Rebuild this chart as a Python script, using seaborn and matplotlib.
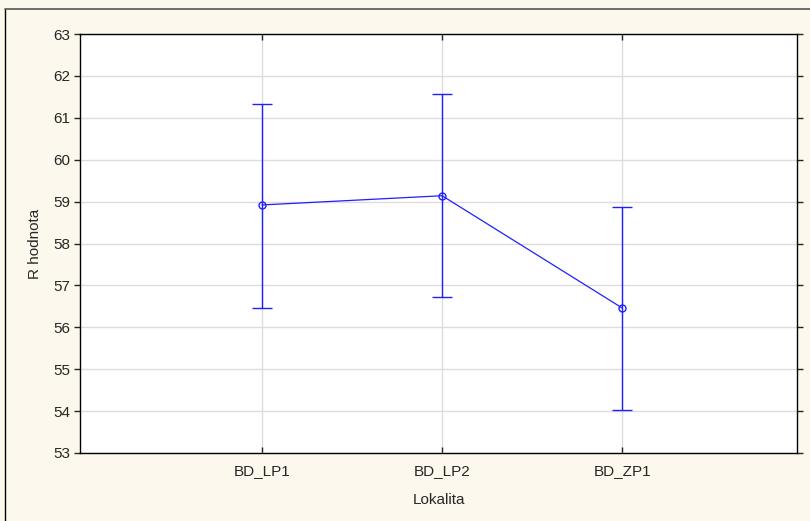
import matplotlib
matplotlib.use('Agg')
import matplotlib.pyplot as plt
import pandas as pd
import seaborn as sns
from matplotlib.lines import Line2D

lokalita = ['BD_LP1', 'BD_LP2', 'BD_ZP1']
r_mean = [58.92, 59.14, 56.46]
r_low = [56.47, 56.73, 54.03]
r_high = [61.33, 61.56, 58.86]

sns.set_style('white')
plt.rcParams['font.family'] = ['Liberation Sans', 'DejaVu Sans']

blue = '#1f1fff'
df = pd.DataFrame({'Lokalita': lokalita, 'R hodnota': r_mean})

fig = plt.figure(figsize=(8.1, 5.21), dpi=100, facecolor='#fdf8ee')
ax = fig.add_axes([80 / 810, 1 - 453 / 521, 717 / 810, 419 / 521])
ax.set_facecolor('white')

pos = list(range(len(lokalita)))
ax.errorbar(pos, r_mean,
            yerr=[[m - l for m, l in zip(r_mean, r_low)],
                  [h - m for m, h in zip(r_mean, r_high)]],
            fmt='none', ecolor=blue, elinewidth=1, capsize=7, capthick=1, zorder=3)
sns.lineplot(data=df, x='Lokalita', y='R hodnota', ax=ax, color=blue,
             linewidth=0.9, marker='o', markersize=5, markerfacecolor='none',
             markeredgecolor=blue, markeredgewidth=1, zorder=4)

ax.set_xlim(-1.01, 2.97)
ax.set_ylim(53, 63)
ax.set_yticks(range(53, 64))
ax.set_xticks(pos)
ax.set_xticklabels(lokalita)
ax.grid(True, color='#dcdcdc', linewidth=1)
ax.set_axisbelow(True)
for s in ax.spines.values():
    s.set_color('black')
    s.set_linewidth(1)
ax.tick_params(axis='y', direction='out', length=4, width=1, left=True,
               right=True, labelsize=11, pad=3)
ax.tick_params(axis='x', direction='in', length=4, width=1, bottom=True,
               top=True, labelsize=11, pad=8)
ax.set_xlabel('Lokalita', fontsize=11, labelpad=11)
ax.set_ylabel('R hodnota', fontsize=11, labelpad=8)

# outer frame of the exported graph window
fig.add_artist(Line2D([5 / 810, 5 / 810], [0, 1 - 9 / 521], color='black',
                      linewidth=1, transform=fig.transFigure))
fig.add_artist(Line2D([5 / 810, 1], [1 - 9 / 521, 1 - 9 / 521], color='#555555',
                      linewidth=1.2, transform=fig.transFigure))

fig.savefig('out.png', dpi=100, facecolor=fig.get_facecolor())
